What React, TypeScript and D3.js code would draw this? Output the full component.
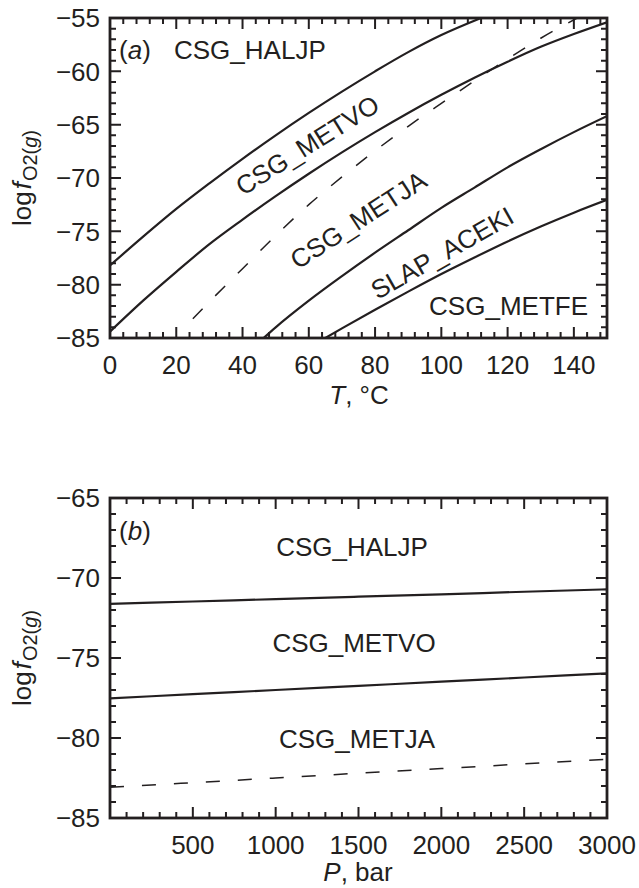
import React, { useEffect, useRef } from 'react';
import * as d3 from 'd3';

// panel (a): log f(O2) against temperature
const tempTicks = [0, 20, 40, 60, 80, 100, 120, 140];
const logfTicksA = [-55, -60, -65, -70, -75, -80, -85];

const haljpMetvoT = [0, 10, 20, 30, 40, 50, 60, 70, 80, 90, 100, 112];
const haljpMetvoLogf = [-78.2, -75.5, -72.9, -70.5, -68.2, -66.0, -63.9, -61.9, -60.0, -58.2, -56.6, -55.0];

const metvoMetjaT = [0, 10, 20, 30, 40, 50, 60, 70, 80, 90, 100, 110, 120, 130, 140, 150];
const metvoMetjaLogf = [-84.4, -81.5, -78.8, -76.2, -73.9, -71.7, -69.6, -67.6, -65.7, -63.9, -62.2, -60.6, -59.1, -57.7, -56.5, -55.4];

const metastableT = [25, 30, 40, 50, 60, 70, 80, 90, 100, 110, 120, 130, 141];
const metastableLogf = [-83.2, -81.6, -78.5, -75.4, -72.5, -69.9, -67.45, -65.15, -63.0, -60.9, -58.85, -56.9, -55.0];

const metjaAcekiT = [46, 50, 60, 70, 80, 90, 100, 110, 120, 130, 140, 150];
const metjaAcekiLogf = [-85.1, -84.0, -81.5, -79.2, -77.0, -74.9, -72.8, -70.9, -69.0, -67.3, -65.7, -64.2];

const acekiMetfeT = [65, 70, 80, 90, 100, 110, 120, 130, 140, 150];
const acekiMetfeLogf = [-85.0, -84.1, -82.35, -80.65, -79.0, -77.45, -75.95, -74.55, -73.25, -72.05];

// panel (b): log f(O2) against pressure
const pressureTicks = [500, 1000, 1500, 2000, 2500, 3000];
const logfTicksB = [-65, -70, -75, -80, -85];

const pressureP = [0, 500, 1000, 1500, 2000, 2500, 3000];
const haljpMetvoPLogf = [-71.62, -71.47, -71.32, -71.17, -71.02, -70.86, -70.71];
const metvoMetjaPLogf = [-77.52, -77.26, -77.0, -76.74, -76.48, -76.22, -75.96];
const metastablePLogf = [-83.08, -82.79, -82.5, -82.2, -81.91, -81.62, -81.33];

const INK = '#231f20';
const FONT = '"Liberation Sans", Arial, Helvetica, sans-serif';

const App = () => {
  const svgRef = useRef(null);

  useEffect(() => {
    renderChart();
    // eslint-disable-next-line react-hooks/exhaustive-deps
  }, []);

  const fmt = (d) => (d < 0 ? '\u2212' + Math.abs(d) : String(d));

  const drawPanel = (svg, opts) => {
    const { box, xDomain, yDomain, xMinor, xMajor, yMinor, yMajor, xLabels, yLabels } = opts;
    const x = d3.scaleLinear().domain(xDomain).range([box.left, box.right]);
    const y = d3.scaleLinear().domain(yDomain).range([box.bottom, box.top]);
    const w = box.right - box.left;
    const h = box.bottom - box.top;

    const g = svg.append('g');

    // inward ticks on all four sides, one path
    const tp = d3.path();
    const addX = (vals, len) =>
      vals.forEach((v) => {
        const px = x(v);
        tp.moveTo(px, box.bottom);
        tp.lineTo(px, box.bottom - len);
        tp.moveTo(px, box.top);
        tp.lineTo(px, box.top + len);
      });
    const addY = (vals, len) =>
      vals.forEach((v) => {
        const py = y(v);
        tp.moveTo(box.left, py);
        tp.lineTo(box.left + len, py);
        tp.moveTo(box.right, py);
        tp.lineTo(box.right - len, py);
      });
    addX(xMinor, 6);
    addX(xMajor, 11);
    addY(yMinor, 6);
    addY(yMajor, 11);
    g.append('path')
      .attr('d', tp.toString())
      .attr('fill', 'none')
      .attr('stroke', INK)
      .attr('stroke-width', 2);

    // tick labels
    g.append('g')
      .selectAll('text')
      .data(xLabels)
      .enter()
      .append('text')
      .attr('x', (d) => x(d))
      .attr('y', box.bottom + 36)
      .attr('text-anchor', 'middle')
      .attr('fill', INK)
      .style('font-family', FONT)
      .style('font-size', '26px')
      .text((d) => fmt(d));

    g.append('g')
      .selectAll('text')
      .data(yLabels)
      .enter()
      .append('text')
      .attr('x', box.left - 10)
      .attr('y', (d) => y(d))
      .attr('dy', '0.36em')
      .attr('text-anchor', 'end')
      .attr('fill', INK)
      .style('font-family', FONT)
      .style('font-size', '26px')
      .text((d) => fmt(d));

    const clipId = 'clip' + box.top;
    svg
      .append('clipPath')
      .attr('id', clipId)
      .append('rect')
      .attr('x', box.left)
      .attr('y', box.top)
      .attr('width', w)
      .attr('height', h);

    g.append('rect')
      .attr('x', box.left)
      .attr('y', box.top)
      .attr('width', w)
      .attr('height', h)
      .attr('fill', 'none')
      .attr('stroke', INK)
      .attr('stroke-width', 2.8);

    return { x, y, g, clipId };
  };

  const addCurve = (panel, xs, ys, dashed) => {
    const line = d3
      .line()
      .x((d) => panel.x(d[0]))
      .y((d) => panel.y(d[1]))
      .curve(d3.curveMonotoneX);
    panel.g
      .append('path')
      .datum(d3.zip(xs, ys))
      .attr('clip-path', `url(#${panel.clipId})`)
      .attr('fill', 'none')
      .attr('stroke', INK)
      .attr('stroke-width', dashed ? 1.5 : 2.2)
      .attr('stroke-dasharray', dashed ? '14,18' : null)
      .attr('d', line);
  };

  const addText = (panel, str, px, py, anchor, angle) => {
    panel.g
      .append('text')
      .attr('transform', `translate(${px},${py}) rotate(${angle || 0})`)
      .attr('text-anchor', anchor)
      .attr('dy', angle ? '0.36em' : 0)
      .attr('fill', INK)
      .style('font-family', FONT)
      .style('font-size', '26px')
      .text(str);
  };

  const addYLabel = (svg, cy) => {
    const t = svg
      .append('text')
      .attr('transform', `translate(31,${cy}) rotate(-90)`)
      .attr('text-anchor', 'middle')
      .attr('fill', INK)
      .style('font-family', FONT)
      .style('font-size', '26px');
    t.append('tspan').text('log');
    t.append('tspan').attr('dx', 2).style('font-style', 'italic').text('f');
    t.append('tspan').attr('dx', 1).attr('dy', 6).style('font-size', '20px').text('O2(');
    t.append('tspan').style('font-size', '20px').style('font-style', 'italic').text('g');
    t.append('tspan').style('font-size', '20px').text(')');
  };

  const addXLabel = (svg, cx, by, sym, rest) => {
    const t = svg
      .append('text')
      .attr('x', cx)
      .attr('y', by)
      .attr('text-anchor', 'middle')
      .attr('fill', INK)
      .style('font-family', FONT)
      .style('font-size', '26px');
    t.append('tspan').style('font-style', 'italic').text(sym);
    t.append('tspan').text(rest);
  };

  const addPanelTag = (svg, px, by, letter) => {
    const t = svg
      .append('text')
      .attr('x', px)
      .attr('y', by)
      .attr('fill', INK)
      .style('font-family', FONT)
      .style('font-size', '26px');
    t.append('tspan').text('(');
    t.append('tspan').style('font-style', 'italic').text(letter);
    t.append('tspan').text(')');
  };

  const renderChart = () => {
    const svg = d3.select(svgRef.current);
    svg.selectAll('*').remove();

    // ---- panel (a)
    const a = drawPanel(svg, {
      box: { left: 110, right: 607, top: 18, bottom: 338 },
      xDomain: [0, 150],
      yDomain: [-85, -55],
      xMinor: d3.range(4, 149, 4),
      xMajor: d3.range(20, 150, 20),
      yMinor: d3.range(-84, -55.5, 1),
      yMajor: d3.range(-80, -55.5, 5),
      xLabels: tempTicks,
      yLabels: logfTicksA,
    });
    addCurve(a, haljpMetvoT, haljpMetvoLogf);
    addCurve(a, metvoMetjaT, metvoMetjaLogf);
    addCurve(a, metastableT, metastableLogf, true);
    addCurve(a, metjaAcekiT, metjaAcekiLogf);
    addCurve(a, acekiMetfeT, acekiMetfeLogf);

    addPanelTag(svg, 119, 59, 'a');
    addText(a, 'CSG_HALJP', 174, 59, 'start');
    addText(a, 'CSG_METVO', a.x(59.5), a.y(-66.9), 'middle', -32);
    addText(a, 'CSG_METJA', a.x(74.9), a.y(-73.9), 'middle', -33);
    addText(a, 'SLAP_ACEKI', a.x(100.2), a.y(-77.0), 'middle', -29.5);
    addText(a, 'CSG_METFE', 588, 315, 'end');
    addYLabel(svg, 178);
    addXLabel(svg, 359, 404, 'T', ', \u00b0C');

    // ---- panel (b)
    const b = drawPanel(svg, {
      box: { left: 110, right: 607, top: 498, bottom: 818 },
      xDomain: [0, 3000],
      yDomain: [-85, -65],
      xMinor: d3.range(100, 3000, 100),
      xMajor: d3.range(500, 3000, 500),
      yMinor: d3.range(-84, -65.5, 1),
      yMajor: d3.range(-80, -65.5, 5),
      xLabels: pressureTicks,
      yLabels: logfTicksB,
    });
    addCurve(b, pressureP, haljpMetvoPLogf);
    addCurve(b, pressureP, metvoMetjaPLogf);
    addCurve(b, pressureP, metastablePLogf, true);

    addPanelTag(svg, 119, 540, 'b');
    addText(b, 'CSG_HALJP', 352, 556, 'middle');
    addText(b, 'CSG_METVO', 354, 652, 'middle');
    addText(b, 'CSG_METJA', 357, 748, 'middle');
    addYLabel(svg, 658);
    addXLabel(svg, 358, 881, 'P', ', bar');
  };

  return (
    <svg
      ref={svgRef}
      width={639}
      height={888}
      style={{ position: 'absolute', left: 0, top: 0, background: '#fff' }}
    />
  );
};

export default App;
